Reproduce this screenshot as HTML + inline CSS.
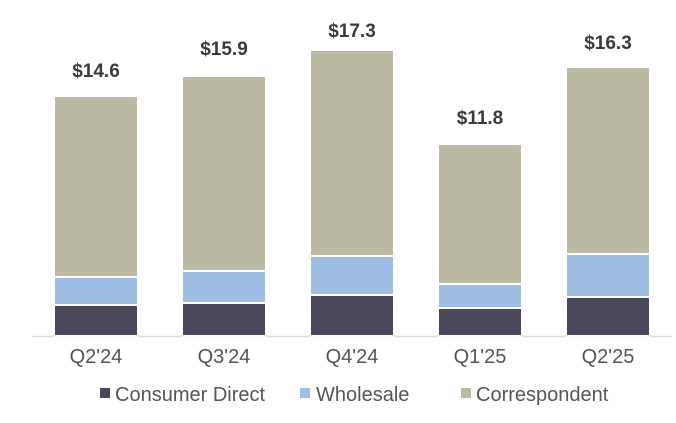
<!DOCTYPE html><html><head><style>
body{margin:0;width:676px;height:418px;background:#fff;font-family:"Liberation Sans",sans-serif;overflow:hidden}
</style></head><body>
<svg width="676" height="418" xmlns="http://www.w3.org/2000/svg" font-family="Liberation Sans, sans-serif">
<line x1="32" y1="336.5" x2="672" y2="336.5" stroke="#d9d9d9" stroke-width="1.5"/>
<g stroke="#fff" stroke-width="2">
<rect x="54" y="96" width="84" height="181" fill="#bcb9a3"/><rect x="54" y="277" width="84" height="28" fill="#9dbde3"/><rect x="54" y="305" width="84" height="31" fill="#4b485c"/>
<rect x="182" y="76" width="84" height="195" fill="#bcb9a3"/><rect x="182" y="271" width="84" height="32" fill="#9dbde3"/><rect x="182" y="303" width="84" height="33" fill="#4b485c"/>
<rect x="310" y="50" width="84" height="206" fill="#bcb9a3"/><rect x="310" y="256" width="84" height="39" fill="#9dbde3"/><rect x="310" y="295" width="84" height="41" fill="#4b485c"/>
<rect x="438" y="144" width="84" height="140" fill="#bcb9a3"/><rect x="438" y="284" width="84" height="24" fill="#9dbde3"/><rect x="438" y="308" width="84" height="28" fill="#4b485c"/>
<rect x="566" y="67" width="84" height="187" fill="#bcb9a3"/><rect x="566" y="254" width="84" height="43" fill="#9dbde3"/><rect x="566" y="297" width="84" height="39" fill="#4b485c"/>
</g>
<g font-size="19" font-weight="bold" fill="#3a3a3a" text-anchor="middle">
<text x="96" y="77">$14.6</text><text x="224" y="55">$15.9</text><text x="352" y="37">$17.3</text><text x="480" y="124">$11.8</text><text x="608" y="49">$16.3</text>
</g>
<g font-size="20" fill="#555" text-anchor="middle">
<text x="96" y="363">Q2'24</text><text x="224" y="363">Q3'24</text><text x="352" y="363">Q4'24</text><text x="480" y="363">Q1'25</text><text x="608" y="363">Q2'25</text>
</g>
<g font-size="20" fill="#555">
<rect x="100" y="388" width="10" height="10" fill="#4b485c"/><text x="115" y="401">Consumer Direct</text>
<rect x="300" y="388" width="10" height="10" fill="#9dbde3"/><text x="316" y="401">Wholesale</text>
<rect x="461" y="388" width="10" height="10" fill="#bcb9a3"/><text x="476" y="401">Correspondent</text>
</g>
</svg>
</body></html>
